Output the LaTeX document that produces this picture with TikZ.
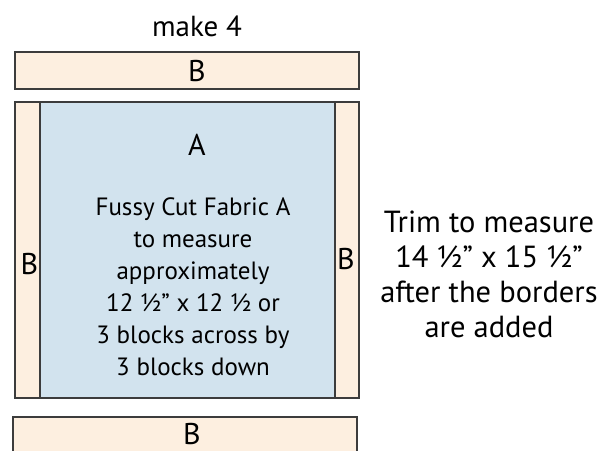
\documentclass[tikz,border=0pt]{standalone}
\usepackage{fontspec}
\setmainfont{PT Sans}
\definecolor{peach}{HTML}{FDEFE0}
\definecolor{paleblue}{HTML}{D2E3EE}
\definecolor{edgegray}{HTML}{3C3C3C}
\begin{document}
\begin{tikzpicture}[x=1pt,y=-1pt,
  strip/.style={draw=edgegray, line width=1.5pt, fill=peach},
  centre/.style={draw=edgegray, line width=1.5pt, fill=paleblue},
  lbl/.style={inner sep=0pt, anchor=base, font=\fontsize{30}{36}\selectfont},
  body/.style={inner sep=0pt, anchor=base, align=center, font=\fontsize{25}{32}\selectfont},
  note/.style={inner sep=0pt, anchor=base, align=center, font=\fontsize{30.5}{35}\selectfont}]
\useasboundingbox (0,0) rectangle (615,450);
\clip (0,0) rectangle (615,450);
\fill[white] (0,0) rectangle (615,450);
% strips and centre
\draw[strip] (15,52) rectangle (359,89);
\draw[strip] (15,102) rectangle (40,398);
\draw[strip] (335,102) rectangle (359,398);
\draw[centre] (40,102) rectangle (335,398);
\draw[strip] (13,417) rectangle (357,470);
% texts
\node[inner sep=0pt, anchor=base, font=\fontsize{29}{34}\selectfont] (make) at (197,36) {make 4};
\node[lbl] (btop) at (197,81) {B};
\node[lbl] (a) at (197,155) {A};
\node[lbl] (bleft) at (29.5,274) {B};
\node[lbl] (bright) at (346,269) {B};
\node[lbl] (bbot) at (192,444) {B};
\node[body] (desc) at (193,375) {Fussy Cut Fabric A\\to measure\\approximately\\12 ½” x 12 ½ or\\3 blocks across by\\3 blocks down};
\node[note] (trim) at (489,337) {Trim to measure\\ 14 ½” x 15 ½”\\after the borders\\are added};
\end{tikzpicture}
\end{document}
